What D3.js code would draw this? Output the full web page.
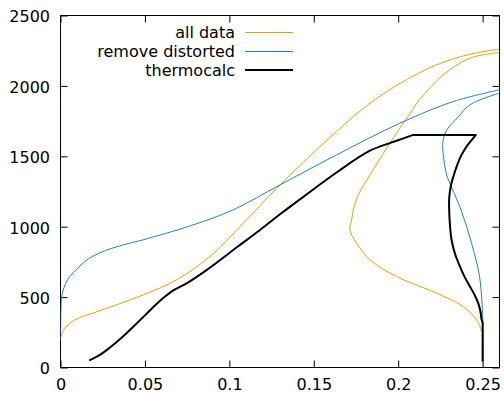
<!DOCTYPE html>
<html>
<head>
<meta charset="utf-8">
<script src="https://cdn.jsdelivr.net/npm/d3@7"></script>
<style>
  body { margin: 0; background: #fff; }
  text { font-family: "DejaVu Sans", sans-serif; font-size: 16px; fill: #000; }
</style>
</head>
<body>
<div id="main-frame"></div>
<script>
// all data: outer branch and inner branch
const allOuterX = [0, 0.001, 0.0027, 0.0086, 0.0204, 0.049, 0.0688, 0.0885, 0.1083, 0.13, 0.1635, 0.1833, 0.203, 0.2228, 0.2425, 0.26];
const allOuterY = [197, 245, 280, 339, 391, 516, 623, 788, 1025, 1297, 1676, 1877, 2031, 2150, 2225, 2261];
const allInnerX = [0.26, 0.2425, 0.2267, 0.2129, 0.207, 0.201, 0.1932, 0.1833, 0.1764, 0.1734, 0.1725, 0.1714, 0.1754, 0.1833, 0.199, 0.2228, 0.2385, 0.2464, 0.2494];
const allInnerY = [2237, 2197, 2079, 1905, 1805, 1700, 1558, 1368, 1227, 1120, 1050, 978, 883, 765, 646, 528, 433, 339, 256];

// remove distorted
const remOuterX = [0, 0.0003, 0.0008, 0.0042, 0.011, 0.0165, 0.0234, 0.03, 0.04, 0.049, 0.0786, 0.1023, 0.13, 0.1635, 0.201, 0.2326, 0.26];
const remOuterY = [200, 420, 510, 623, 715, 772, 815, 845, 880, 907, 1013, 1120, 1297, 1510, 1735, 1889, 1972];
const remInnerX = [0.26, 0.2425, 0.2356, 0.2287, 0.2265, 0.2267, 0.2287, 0.2306, 0.2375, 0.2435, 0.248, 0.2497, 0.2502, 0.2504];
const remInnerY = [1949, 1866, 1780, 1685, 1605, 1510, 1368, 1309, 1110, 880, 660, 450, 300, 0];

// thermocalc: rising part, flat top, right-hand part
const tcRiseX = [0.017, 0.024, 0.0293, 0.036, 0.0431, 0.05, 0.055, 0.061, 0.0668, 0.0747, 0.0865, 0.0944, 0.104, 0.118, 0.13,
  0.1438, 0.1635, 0.1833, 0.1991, 0.2089];
const tcRiseY = [50, 95, 142, 210, 290, 370, 430, 495, 548, 598, 692, 762, 850, 975, 1088,
  1212, 1385, 1540, 1610, 1652];
const tcRightX = [0.246, 0.2425, 0.2405, 0.2375, 0.2346, 0.2325, 0.2311, 0.2302, 0.2302, 0.2306, 0.2316, 0.2336, 0.2366, 0.2395, 0.2425, 0.2455, 0.2474, 0.2487, 0.2494, 0.25];
const tcRightY = [1652, 1600, 1569, 1510, 1427, 1350, 1285, 1200, 1120, 1020, 907, 810, 717, 640, 575, 510, 457, 400, 339, 320];
const tcEndX = [0.25, 0.25];
const tcEndY = [320, 43];

const xTicks = [0, 0.05, 0.1, 0.15, 0.2, 0.25];
const yTicks = [0, 500, 1000, 1500, 2000, 2500];
const legendLabels = ["all data", "remove distorted", "thermocalc"];

const W = 504, H = 393;
const pLeft = 60.5, pRight = 499.5, pTop = 15.5, pBottom = 367.5;

const svg = d3.select("#main-frame")
  .append("svg")
  .attr("width", W)
  .attr("height", H);

const x = d3.scaleLinear().domain([0, 0.26]).range([pLeft, pRight]);
const y = d3.scaleLinear().domain([0, 2500]).range([pBottom, pTop]);

svg.append("clipPath").attr("id", "clip")
  .append("rect")
  .attr("x", pLeft).attr("y", pTop)
  .attr("width", pRight - pLeft).attr("height", pBottom - pTop);

// border
svg.append("rect")
  .attr("x", pLeft).attr("y", pTop)
  .attr("width", pRight - pLeft).attr("height", pBottom - pTop)
  .attr("fill", "none").attr("stroke", "#000").attr("stroke-width", 1);

const fmtX = d => d === 0 ? "0" : String(d);

svg.append("g")
  .attr("transform", `translate(0, ${pBottom})`)
  .call(d3.axisBottom(x).tickValues(xTicks).tickSize(-7).tickPadding(11).tickFormat(fmtX))
  .call(g => g.select(".domain").remove());

svg.append("g")
  .attr("transform", `translate(0, ${pTop})`)
  .call(d3.axisTop(x).tickValues(xTicks).tickSize(-7).tickFormat(""))
  .call(g => g.select(".domain").remove());

svg.append("g")
  .attr("transform", `translate(${pLeft}, 0)`)
  .call(d3.axisLeft(y).tickValues(yTicks).tickSize(-7).tickPadding(10.5).tickFormat(d3.format("d")))
  .call(g => g.select(".domain").remove())
  .call(g => g.selectAll("text").attr("dy", "0.4em"));

svg.append("g")
  .attr("transform", `translate(${pRight}, 0)`)
  .call(d3.axisRight(y).tickValues(yTicks).tickSize(-7).tickFormat(""))
  .call(g => g.select(".domain").remove());

svg.selectAll(".tick text")
  .attr("font-family", "DejaVu Sans, sans-serif")
  .attr("font-size", 16)
  .attr("fill", "#000");
svg.selectAll(".tick line").attr("stroke", "#000");

const smooth = d3.line()
  .x(d => x(d[0]))
  .y(d => y(d[1]))
  .curve(d3.curveCatmullRom.alpha(0.5));
const straight = d3.line()
  .x(d => x(d[0]))
  .y(d => y(d[1]));

const zip = (xs, ys) => xs.map((v, i) => [v, ys[i]]);

// thermocalc path: smooth pieces joined by straight segments at the corners
const tcPath = smooth(zip(tcRiseX, tcRiseY))
  + smooth(zip(tcRightX, tcRightY)).replace(/^M/, "L")
  + straight(zip(tcEndX, tcEndY)).replace(/^M/, "L");

const series = [
  { d: smooth(zip(allOuterX, allOuterY)), color: "#e69f00", w: 1 },
  { d: smooth(zip(allInnerX, allInnerY)), color: "#e69f00", w: 1 },
  { d: smooth(zip(remOuterX, remOuterY)), color: "#1f80c0", w: 1 },
  { d: smooth(zip(remInnerX, remInnerY)), color: "#1f80c0", w: 1 },
  { d: tcPath, color: "#000", w: 2 }
];

const plot = svg.append("g").attr("clip-path", "url(#clip)");
plot.selectAll("path")
  .data(series)
  .enter()
  .append("path")
  .attr("d", d => d.d)
  .attr("fill", "none")
  .attr("stroke", d => d.color)
  .attr("stroke-width", d => d.w)
  .attr("stroke-linejoin", "round");

// legend
const legendColors = ["#e69f00", "#1f80c0", "#000"];
const legendW = [1, 1, 2];
const legendY = [32.5, 51.5, 70];
const key = svg.append("g");
legendLabels.forEach((lab, i) => {
  key.append("text")
    .attr("x", 235)
    .attr("y", legendY[i])
    .attr("dy", "0.36em")
    .attr("text-anchor", "end")
    .text(lab);
  key.append("line")
    .attr("x1", 245).attr("x2", 293)
    .attr("y1", legendY[i]).attr("y2", legendY[i])
    .attr("stroke", legendColors[i])
    .attr("stroke-width", legendW[i]);
});
</script>
</body>
</html>
